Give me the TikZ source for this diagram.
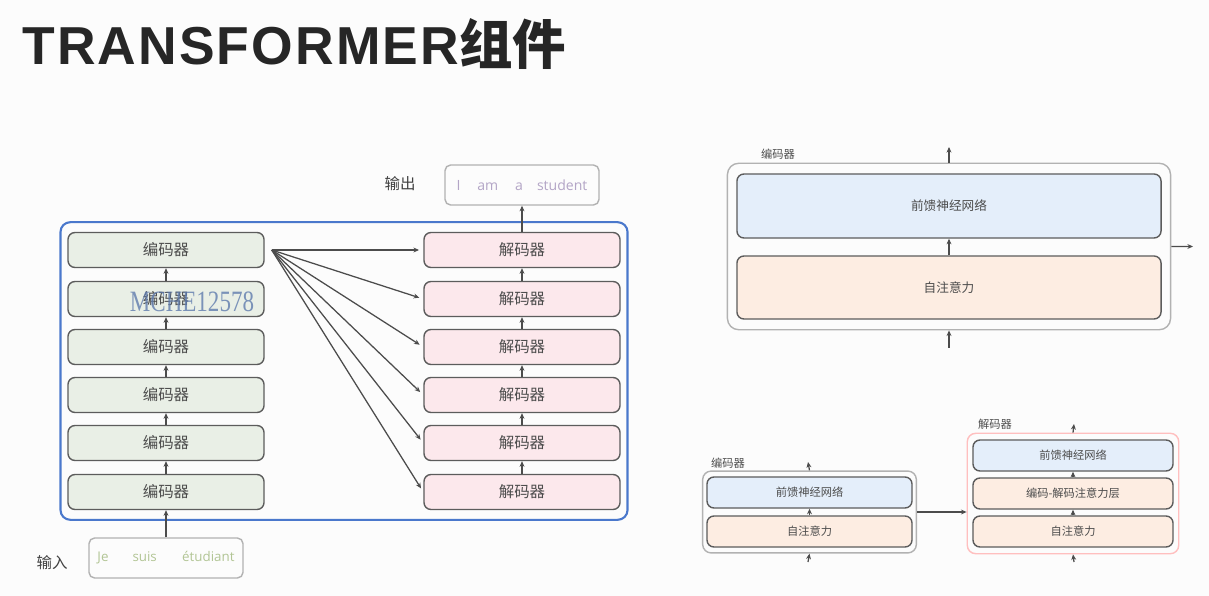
\documentclass[tikz,border=0pt]{standalone}
\usepackage{fontspec}
\setmainfont{Liberation Sans}
\newfontfamily\titlefont{Liberation Sans}[LetterSpace=4]
\newfontfamily\cjk{Noto Sans CJK SC}
\newfontfamily\latin{Open Sans}
\newfontfamily\wmfont{Liberation Serif}
\usetikzlibrary{positioning,calc,fit,arrows.meta}
\definecolor{encfill}{HTML}{E9EFE6}
\definecolor{decfill}{HTML}{FCE8EC}
\definecolor{ffnfill}{HTML}{E4EEFA}
\definecolor{attfill}{HTML}{FDEDE2}
\definecolor{boxline}{HTML}{5C5C5C}
\definecolor{stackblue}{HTML}{4A78CC}
\definecolor{inword}{HTML}{B2C595}
\definecolor{outword}{HTML}{B3A5C6}

\begin{document}
\begin{tikzpicture}[x=0.025cm,y=-0.025cm,font=\cjk,
  >={Stealth[length=4pt,width=3.5pt]},
  layer/.style={draw=boxline,line width=1pt,rounded corners=5pt,minimum width=4.9cm,
    minimum height=0.875cm,text=black!70,font=\cjk\fontsize{11}{13}\selectfont},
  enc/.style={layer,fill=encfill},
  dec/.style={layer,fill=decfill},
  sub/.style={draw=boxline,line width=1pt,rounded corners=5pt,text=black!70,
    font=\cjk\fontsize{8}{10}\selectfont},
  ffn/.style={sub,fill=ffnfill},
  att/.style={sub,fill=attfill},
  word/.style={draw=black!30,line width=1pt,rounded corners=4pt,minimum width=3.85cm,
    minimum height=1cm,font=\latin\fontsize{9.5}{11}\selectfont},
  tag/.style={font=\cjk\fontsize{8}{10}\selectfont,text=black!70},
  link/.style={->,draw=black!70,line width=0.9pt}]
\fill[black!1] (0,0) rectangle (1209,596);
\node[anchor=base west,inner sep=0pt,font=\titlefont\fontsize{38}{46}\selectfont\bfseries,text=black!85] (title) at (22,65) {TRANSFORMER{\cjk 组件}};

% left: stack of encoders and decoders
\foreach \i/\y in {1/492,2/443,3/395,4/347,5/299,6/250}{
  \node[enc] (e\i) at (166,\y) {编码器};
  \node[dec] (d\i) at (522,\y) {解码器};
}
\node[draw=stackblue,line width=1.5pt,rounded corners=7pt,inner xsep=0.17cm,inner ysep=0.24cm,
  fit=(e1)(e6)(d1)(d6)] (stack) {};
\foreach \i/\j in {1/2,2/3,3/4,4/5,5/6}{
  \draw[link] (e\i) -- (e\j);
  \draw[link] (d\i) -- (d\j);
}
\coordinate[right=5pt of e6] (fan);
\foreach \i in {1,...,6}
  \draw[link,shorten >=3pt] (fan) -- (d\i.west);

\node[word,text=inword] (inp) at (166,558) {Je\hspace{1.8em}suis\hspace{1.9em}étudiant};
\node[font=\cjk\fontsize{11}{13}\selectfont,text=black!75] (inlab) at (52,563) {输入};
\node[word,text=outword,font=\latin\fontsize{10}{12}\selectfont] (out) at (522,185) {I\hspace{1.2em}am\hspace{1.2em}a\hspace{1em}student};
\node[font=\cjk\fontsize{11}{13}\selectfont,text=black!75] (outlab) at (400,184) {输出};
\draw[link] (inp) -- (e1);
\draw[link] (d6) -- (out);
\node[text=stackblue!60!gray,opacity=0.8,font=\wmfont\fontsize{21}{24}\selectfont,xscale=0.78] (wm) at (192,302) {MCHE12578};

% right top: one encoder
\node[ffn,minimum width=10.6cm,minimum height=1.6cm,font=\cjk\fontsize{9}{11}\selectfont] (tf) at (949,206) {前馈神经网络};
\node[att,minimum width=10.6cm,minimum height=1.575cm,font=\cjk\fontsize{9}{11}\selectfont] (ta) at (949,287.5) {自注意力};
\node[draw=black!30,line width=1pt,rounded corners=8pt,inner xsep=0.22cm,inner ysep=0.25cm,fit=(tf)(ta)] (tenc) {};
\node[tag] (tlab) at (778,154) {编码器};
\coordinate (tup) at (949,147);
\coordinate (tin) at (949,348);
\coordinate (tright) at (1193,246.5);
\draw[link] (tenc.north) -- (tup);
\draw[link] (tin) -- (tenc.south);
\draw[link] (tenc.east) -- (tright);
\draw[link] (ta) -- (tf);

% right bottom: encoder feeding decoder
\node[ffn,minimum width=5.125cm,minimum height=0.775cm] (bf) at (809.5,492.5) {前馈神经网络};
\node[att,minimum width=5.125cm,minimum height=0.775cm] (ba) at (809.5,531.5) {自注意力};
\node[draw=black!30,line width=1pt,rounded corners=6pt,inner xsep=0.09cm,inner ysep=0.13cm,fit=(bf)(ba)] (benc) {};
\node[tag] (blab) at (728,463) {编码器};
\node[ffn,minimum width=5cm,minimum height=0.775cm] (df) at (1073,455.5) {前馈神经网络};
\node[att,minimum width=5cm,minimum height=0.775cm] (dc) at (1073,493.5) {编码-解码注意力层};
\node[att,minimum width=5cm,minimum height=0.775cm] (da) at (1073,531.5) {自注意力};
\node[draw=red!25,line width=1pt,rounded corners=6pt,inner xsep=0.125cm,inner ysep=0.15cm,fit=(df)(da)] (denc) {};
\node[tag] (dlab) at (995,424) {解码器};
\coordinate (bup) at (808,462);
\coordinate (bin) at (808,562);
\coordinate (dup) at (1074,424);
\coordinate (din) at (1074,562);
\draw[link] (bin) -- (benc.south);
\draw[link] (ba) -- (bf);
\draw[link] (benc.north) -- (bup);
\draw[link] (benc.east) -- (benc.east -| denc.west);
\draw[link] (din) -- (denc.south);
\draw[link] (da) -- (dc);
\draw[link] (dc) -- (df);
\draw[link] (denc.north) -- (dup);
\end{tikzpicture}
\end{document}
